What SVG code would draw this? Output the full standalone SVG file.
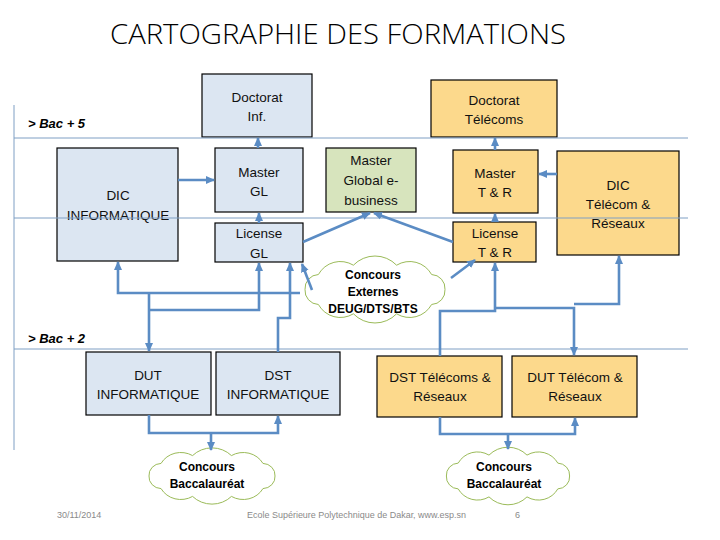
<svg xmlns="http://www.w3.org/2000/svg" width="720" height="540" viewBox="0 0 720 540">
<style>
.bl{fill:#dce6f2;stroke:#000;stroke-width:1.2}
.or{fill:#fcd98c;stroke:#000;stroke-width:1.2}
.gr{fill:#d7e4bd;stroke:#000;stroke-width:1.2}
.t{font-family:"Liberation Sans",Arial,sans-serif;font-size:13.5px;fill:#111;text-anchor:middle}
.ct{font-family:"Liberation Sans",Arial,sans-serif;font-size:12px;font-weight:bold;fill:#000;text-anchor:middle}
.cl{fill:#ffffff;stroke:#9bbb59;stroke-width:1}
.rule{stroke:#7f9fc4;stroke-width:1;fill:none}
.lvl{font-family:"Liberation Sans",Arial,sans-serif;font-size:13px;font-weight:bold;font-style:italic;fill:#000}
.ft{font-family:"Liberation Sans",Arial,sans-serif;font-size:9px;fill:#8a8a8a}
.c{stroke:#5b8cc4;stroke-width:2.6;fill:none}
.a{marker-end:url(#ah)}
</style>
<defs>
<marker id="ah" markerUnits="userSpaceOnUse" markerWidth="10" markerHeight="10" refX="8" refY="5" orient="auto">
<path d="M0,1 L9,5 L0,9 Z" fill="#5b8cc4"/>
</marker>
</defs>
<rect width="720" height="540" fill="#fff"/>
<text x="110" y="44" textLength="456" lengthAdjust="spacingAndGlyphs" style="font-family:'Open Sans','Liberation Sans',Arial,sans-serif;font-weight:300;font-size:27px;fill:#000">CARTOGRAPHIE DES FORMATIONS</text>

<g id="doctorat-inf"><rect class="bl" x="202" y="74" width="110" height="63"/><text class="t" x="257" y="102">Doctorat</text><text class="t" x="257" y="121">Inf.</text></g>
<g id="doctorat-telecoms"><rect class="or" x="431" y="80" width="126" height="57"/><text class="t" x="494" y="105">Doctorat</text><text class="t" x="494" y="124">Télécoms</text></g>
<g id="dic-informatique"><rect class="bl" x="57" y="148" width="121" height="113"/><text class="t" x="118" y="200">DIC</text><text class="t" x="118" y="220">INFORMATIQUE</text></g>
<g id="master-gl"><rect class="bl" x="215" y="148" width="88" height="64"/><text class="t" x="259" y="177">Master</text><text class="t" x="259" y="196">GL</text></g>
<g id="license-gl"><rect class="bl" x="215" y="223" width="88" height="39"/><text class="t" x="259" y="238">License</text><text class="t" x="259" y="258">GL</text></g>
<g id="master-global"><rect class="gr" x="326" y="148" width="90" height="64"/><text class="t" x="371" y="165">Master</text><text class="t" x="371" y="185">Global e-</text><text class="t" x="371" y="205">business</text></g>
<g id="master-tr"><rect class="or" x="453" y="150" width="85" height="63"/><text class="t" x="495" y="178">Master</text><text class="t" x="495" y="197">T &amp; R</text></g>
<g id="license-tr"><rect class="or" x="453" y="222" width="83" height="40"/><text class="t" x="495" y="238">License</text><text class="t" x="495" y="257">T &amp; R</text></g>
<g id="dic-telecom"><rect class="or" x="557" y="151" width="122" height="104"/><text class="t" x="618" y="190">DIC</text><text class="t" x="618" y="209">Télécom &amp;</text><text class="t" x="618" y="228">Réseaux</text></g>
<g id="concours-externes"><path class="cl" d="M-70,0 A14,14 0 0 1 -56.6,-15 A25,25 0 0 1 -21.6,-24.3 A30,30 0 0 1 21.6,-24.3 A25,25 0 0 1 56.6,-15 A14,14 0 0 1 70,0 A14,14 0 0 1 56.6,15 A25,25 0 0 1 21.6,24.3 A30,30 0 0 1 -21.6,24.3 A25,25 0 0 1 -56.6,15 A14,14 0 0 1 -70,0 Z" transform="translate(375,289.5)"/><text class="ct" x="373" y="279">Concours</text><text class="ct" x="373" y="296">Externes</text><text class="ct" x="373" y="313">DEUG/DTS/BTS</text></g>
<g id="dut-informatique"><rect class="bl" x="86" y="352" width="125" height="63"/><text class="t" x="148" y="380">DUT</text><text class="t" x="148" y="399">INFORMATIQUE</text></g>
<g id="dst-informatique"><rect class="bl" x="216" y="352" width="124" height="63"/><text class="t" x="278" y="380">DST</text><text class="t" x="278" y="399">INFORMATIQUE</text></g>
<g id="dst-telecoms"><rect class="or" x="377" y="356" width="125" height="61"/><text class="t" x="440" y="382">DST Télécoms &amp;</text><text class="t" x="440" y="401">Réseaux</text></g>
<g id="dut-telecom"><rect class="or" x="512" y="356" width="125" height="61"/><text class="t" x="575" y="382">DUT Télécom &amp;</text><text class="t" x="575" y="401">Réseaux</text></g>
<g id="concours-bac-1"><path class="cl" vector-effect="non-scaling-stroke" d="M-70,0 A14,14 0 0 1 -56.6,-15 A25,25 0 0 1 -21.6,-24.3 A30,30 0 0 1 21.6,-24.3 A25,25 0 0 1 56.6,-15 A14,14 0 0 1 70,0 A14,14 0 0 1 56.6,15 A25,25 0 0 1 21.6,24.3 A30,30 0 0 1 -21.6,24.3 A25,25 0 0 1 -56.6,15 A14,14 0 0 1 -70,0 Z" transform="translate(212,476) scale(0.9,0.84)"/><text class="ct" x="207" y="471">Concours</text><text class="ct" x="207" y="488">Baccalauréat</text></g>
<g id="concours-bac-2"><path class="cl" vector-effect="non-scaling-stroke" d="M-70,0 A14,14 0 0 1 -56.6,-15 A25,25 0 0 1 -21.6,-24.3 A30,30 0 0 1 21.6,-24.3 A25,25 0 0 1 56.6,-15 A14,14 0 0 1 70,0 A14,14 0 0 1 56.6,15 A25,25 0 0 1 21.6,24.3 A30,30 0 0 1 -21.6,24.3 A25,25 0 0 1 -56.6,15 A14,14 0 0 1 -70,0 Z" transform="translate(508,476) scale(0.88,0.86)"/><text class="ct" x="504" y="471">Concours</text><text class="ct" x="504" y="488">Baccalauréat</text></g>

<g id="levels">
<path class="rule" d="M14,105 V450 M14,138 H688 M14,218 H688 M14,349 H688"/>
<text class="lvl" x="28" y="128">&gt; Bac + 5</text>
<text class="lvl" x="28" y="343">&gt; Bac + 2</text>
</g>

<g id="connectors">
<path class="c a" d="M178,180 H214"/>
<path class="c a" d="M258,148 V138"/>
<path class="c a" d="M259,223 V213"/>
<path class="c a" d="M303,242 L370,213"/>
<path class="c a" d="M453,242 L374,213"/>
<path class="c a" d="M495,222 V214"/>
<path class="c a" d="M495,150 V138"/>
<path class="c a" d="M557,174 H539"/>
<path class="c a" d="M300,293 H118 V262"/>
<path class="c a" d="M149,293 V351"/>
<path class="c a" d="M149,310 H259 V263"/>
<path class="c a" d="M278,352 V318 H290 V263"/>
<path class="c a" d="M312,290 L302,264"/>
<path class="c a" d="M149,415 V433 H278 V416"/>
<path class="c a" d="M211,433 V450"/>
<path class="c a" d="M451,278 L475,260"/>
<path class="c a" d="M440,356 V311 H495 V263"/>
<path class="c a" d="M495,308 H574 V355"/>
<path class="c a" d="M574,304 H619 V256"/>
<path class="c a" d="M440,417 V434 H575 V418"/>
<path class="c a" d="M508,434 V449"/>
</g>

<g id="footer">
<text class="ft" x="57" y="518">30/11/2014</text>
<text class="ft" x="247" y="518" textLength="219" lengthAdjust="spacingAndGlyphs">Ecole Supérieure Polytechnique de Dakar, www.esp.sn</text>
<text class="ft" x="515" y="518">6</text>
</g>
</svg>
